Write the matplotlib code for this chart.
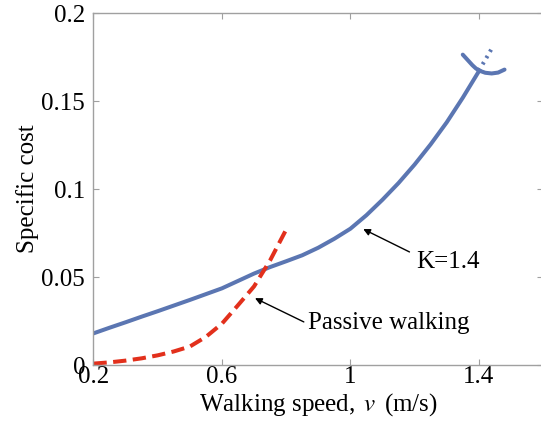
import matplotlib
matplotlib.use("Agg")
import matplotlib.pyplot as plt
from matplotlib.ticker import FormatStrFormatter

# Dados
vel_k = [0.2, 0.25, 0.3, 0.35, 0.4, 0.45, 0.5, 0.55, 0.6, 0.65, 0.7, 0.75,
         0.8, 0.85, 0.9, 0.95, 1.0, 1.05, 1.1, 1.15, 1.2, 1.25, 1.3, 1.35, 1.4]
custo_k = [0.018, 0.0212, 0.0243, 0.0275, 0.0306, 0.0338, 0.0370, 0.0403,
           0.0436, 0.0478, 0.0520, 0.0557, 0.0590, 0.0624, 0.0667, 0.0718,
           0.0775, 0.0852, 0.0940, 0.1035, 0.1140, 0.1255, 0.1380, 0.1520,
           0.1670]

# laço no fim da curva K=1.4
vel_ramo_esq = [1.35, 1.365, 1.38, 1.39, 1.40]
custo_ramo_esq = [0.1765, 0.1735, 0.1705, 0.1688, 0.1675]
vel_ramo_dir = [1.40, 1.42, 1.44, 1.46, 1.48]
custo_ramo_dir = [0.1675, 0.1662, 0.1658, 0.1663, 0.1680]
vel_pontilhado = [1.40, 1.42, 1.445]
custo_pontilhado = [0.1675, 0.1735, 0.1815]

vel_passivo = [0.2, 0.25, 0.3, 0.35, 0.4, 0.45, 0.5, 0.55, 0.6, 0.65, 0.7,
               0.75, 0.8]
custo_passivo = [0.0008, 0.0015, 0.0025, 0.0038, 0.0055, 0.0077, 0.0105,
                 0.0160, 0.0235, 0.0340, 0.0447, 0.0595, 0.0770]

x_ticks = [0.2, 0.6, 1.0, 1.4]
y_ticks = [0, 0.05, 0.1, 0.15, 0.2]

AZUL = "#5b76b2"
VERMELHO = "#e2301c"
CINZA = "#a0a0a0"

plt.rcParams["font.family"] = "Liberation Serif"
plt.rcParams["mathtext.fontset"] = "stix"

fig = plt.figure(figsize=(5.41, 4.23), dpi=100)
# a borda direita do eixo fica logo fora da imagem, como no original
ax = fig.add_axes([0.1728, 0.1371, 0.831, 0.8314])

ax.plot(vel_k, custo_k, color=AZUL, lw=2.9, solid_capstyle="round")
ax.plot(vel_ramo_esq, custo_ramo_esq, color=AZUL, lw=2.9, solid_capstyle="round")
ax.plot(vel_ramo_dir, custo_ramo_dir, color=AZUL, lw=2.9, solid_capstyle="round")
ax.plot(vel_pontilhado, custo_pontilhado, color=AZUL, lw=2.9, ls=(0, (0.6, 1.2)))
ax.plot(vel_passivo, custo_passivo, color=VERMELHO, lw=2.9, ls=(0, (3.3, 1.6)))

# setas e textos das anotações
seta = dict(arrowstyle="-|>", color="black", lw=1, mutation_scale=10,
            shrinkA=0, shrinkB=0)
ax.annotate("", xy=(1.04, 0.0773), xytext=(1.184, 0.0643), arrowprops=seta)
ax.text(1.206, 0.0586, "K=1.4", fontsize=18, va="center", ha="left")
ax.annotate("", xy=(0.703, 0.038), xytext=(0.855, 0.0245), arrowprops=seta)
ax.text(0.868, 0.0239, "Passive walking", fontsize=18, va="center", ha="left")

ax.set_xlim(0.2, 1.6)
ax.set_ylim(0, 0.2)
ax.set_xticks(x_ticks)
ax.set_yticks(y_ticks)
ax.xaxis.set_major_formatter(FormatStrFormatter("%g"))
ax.yaxis.set_major_formatter(FormatStrFormatter("%g"))
ax.tick_params(direction="in", length=4, width=0.8, color=CINZA,
               labelsize=18, top=True, right=True)
ax.tick_params(axis="x", pad=1)
ax.tick_params(axis="y", pad=6)
for s in ax.spines.values():
    s.set_color(CINZA)
    s.set_linewidth(1)

ax.set_xlabel(r"Walking speed, $\,v\,$ (m/s)", fontsize=18, labelpad=2)
ax.set_ylabel("Specific cost", fontsize=18, labelpad=2)

fig.savefig("out.png", dpi=100)
